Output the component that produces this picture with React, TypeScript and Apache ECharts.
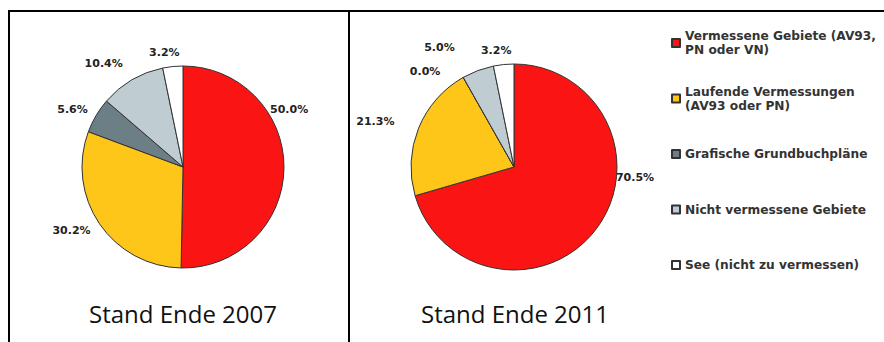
import React, { useEffect, useRef } from "react";
import * as echarts from "echarts";

const categories = [
  "Vermessene Gebiete (AV93,\nPN oder VN)",
  "Laufende Vermessungen\n(AV93 oder PN)",
  "Grafische Grundbuchpläne",
  "Nicht vermessene Gebiete",
  "See (nicht zu vermessen)",
];
const values2007 = [50.0, 30.2, 5.6, 10.4, 3.2];
const values2011 = [70.5, 21.3, 0.0, 5.0, 3.2];
const panelTitles = ["Stand Ende 2007", "Stand Ende 2011"];

const COLORS = ["#fb1414", "#ffc61a", "#6c7e86", "#bfcdd3", "#ffffff"];

export default function App() {
  const ref = useRef<HTMLDivElement>(null);

  useEffect(() => {
    document.body.style.margin = "0";
    const chart = echarts.init(ref.current!, null, { renderer: "svg" });

    // label nudges (label text only), per series and slice
    const nudges = [
      [[-29, -59], [4, 0], [5, 0], [0, -6], [11, -2]],
      [[7, -59], [-10, -2], [-14, 5], [-16, -12], [12, -2]],
    ];

    const makeSeries = (si: number, vals: number[], center: number[], radius: number) => ({
      type: "pie",
      center,
      radius,
      startAngle: 90,
      clockwise: true,
      avoidLabelOverlap: false,
      minShowLabelAngle: -1,
      data: vals.map((v, i) => ({
        name: categories[i],
        value: v,
        itemStyle: { color: COLORS[i] },
      })),
      itemStyle: { borderColor: "#333", borderWidth: 1 },
      label: {
        show: true,
        position: "outside",
        formatter: (p: any) => Number(p.value).toFixed(1) + "%",
        fontFamily: "DejaVu Sans",
        fontWeight: "bold",
        fontSize: 11,
        color: "#222",
        distanceToLabelLine: 3,
      },
      labelLine: { show: false, length: 12, length2: 0 },
      labelLayout: (params: any) => {
        const n = nudges[si][params.dataIndex];
        return { hideOverlap: false, moveOverlap: null, dx: n[0], dy: n[1] };
      },
      emphasis: { disabled: true },
    });

    const option: any = {
      animation: false,
      backgroundColor: "#ffffff",
      legend: {
        orient: "vertical",
        left: 671,
        top: 22,
        padding: 0,
        itemGap: 13.5,
        itemWidth: 8,
        itemHeight: 8,
        icon: "rect",
        selectedMode: false,
        textStyle: {
          fontFamily: "DejaVu Sans",
          fontWeight: "bold",
          fontSize: 12.2,
          color: "#333",
          lineHeight: 14,
        },
        data: categories.map((n) => ({
          name: n,
          textStyle: {
            padding: n.includes("\n") ? [14, 0, 0, 0] : [14, 0, 14, 0],
            backgroundColor: "rgba(255,255,255,0)",
          },
        })),
      },
      series: [
        makeSeries(0, values2007, [183, 167], 101),
        makeSeries(1, values2011, [514, 167], 103),
      ],
      graphic: [
        { type: "line", shape: { x1: 8, y1: 11, x2: 884, y2: 11 }, style: { stroke: "#000", lineWidth: 2 } },
        { type: "line", shape: { x1: 9, y1: 10, x2: 9, y2: 342 }, style: { stroke: "#000", lineWidth: 2 } },
        { type: "line", shape: { x1: 349, y1: 10, x2: 349, y2: 342 }, style: { stroke: "#000", lineWidth: 2 } },
        {
          type: "text",
          x: 183,
          y: 313,
          style: {
            text: panelTitles[0],
            font: '24px "Open Sans"',
            fill: "#111",
            textAlign: "center",
            textVerticalAlign: "middle",
          },
        },
        {
          type: "text",
          x: 515,
          y: 313,
          style: {
            text: panelTitles[1],
            font: '24px "Open Sans"',
            fill: "#111",
            textAlign: "center",
            textVerticalAlign: "middle",
          },
        },
      ],
    };

    chart.setOption(option);
    return () => chart.dispose();
  }, []);

  return <div ref={ref} style={{ width: 884, height: 342 }} />;
}
